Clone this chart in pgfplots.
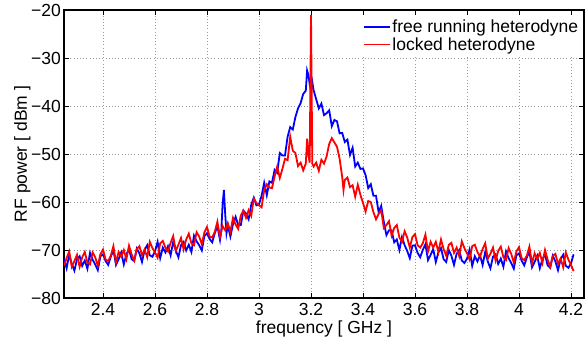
\documentclass[border=0pt]{standalone}
\usepackage{pgfplots}
\pgfplotsset{compat=1.18}
\usepackage{pgfplotstable}
\usepackage{fontspec}
\setmainfont{Liberation Sans}

\pgfplotstableread{
x y
2.25 -71.8
2.26 -73.8
2.27 -71.0
2.28 -72.9
2.29 -74.3
2.30 -71.9
2.31 -71.3
2.32 -73.3
2.33 -72.2
2.34 -73.9
2.35 -70.6
2.36 -72.0
2.37 -73.0
2.38 -74.2
2.39 -71.3
2.40 -70.9
2.41 -72.3
2.42 -73.1
2.43 -71.4
2.44 -70.0
2.45 -73.1
2.46 -71.9
2.47 -70.5
2.48 -73.0
2.49 -70.9
2.50 -69.8
2.51 -71.9
2.52 -72.3
2.53 -69.7
2.54 -70.7
2.55 -72.5
2.56 -70.0
2.57 -69.0
2.58 -71.1
2.59 -71.4
2.60 -70.3
2.61 -68.3
2.62 -71.7
2.63 -69.5
2.64 -70.5
2.65 -69.2
2.66 -71.1
2.67 -68.3
2.68 -70.1
2.69 -71.5
2.70 -69.0
2.71 -68.3
2.72 -70.1
2.73 -68.9
2.74 -70.4
2.75 -67.0
2.76 -68.2
2.77 -69.0
2.78 -70.1
2.79 -67.1
2.80 -66.5
2.81 -67.7
2.82 -68.4
2.83 -66.5
2.84 -65.0
2.85 -67.9
2.855 -66.0
2.86 -60.5
2.865 -57.5
2.87 -62.5
2.875 -66.5
2.88 -64.9
2.89 -67.2
2.90 -64.6
2.91 -63.1
2.92 -64.8
2.93 -64.8
2.94 -61.8
2.95 -62.4
2.96 -63.6
2.97 -60.6
2.98 -59.1
2.99 -60.7
3.00 -60.5
3.01 -58.7
3.02 -56.0
3.03 -58.6
3.04 -55.7
3.05 -56.0
3.06 -53.3
3.07 -53.9
3.08 -49.8
3.09 -50.3
3.10 -50.3
3.11 -46.4
3.12 -44.4
3.13 -44.9
3.14 -42.3
3.15 -40.5
3.16 -39.4
3.17 -37.5
3.18 -36.8
3.185 -32.6
3.19 -33.5
3.195 -35.5
3.20 -36.8
3.205 -35.0
3.21 -36.7
3.22 -38.6
3.23 -40.5
3.24 -39.5
3.25 -41.9
3.26 -41.5
3.27 -40.9
3.28 -44.2
3.29 -42.9
3.30 -43.2
3.31 -45.7
3.32 -45.6
3.33 -47.5
3.34 -47.0
3.35 -50.2
3.36 -48.7
3.37 -52.6
3.38 -51.8
3.39 -53.1
3.40 -53.0
3.41 -54.4
3.42 -57.1
3.43 -56.3
3.44 -58.7
3.45 -58.7
3.46 -62.1
3.47 -60.8
3.48 -64.1
3.49 -66.9
3.50 -65.9
3.51 -65.9
3.52 -68.4
3.53 -67.8
3.54 -70.0
3.55 -67.3
3.56 -69.0
3.57 -70.2
3.58 -71.7
3.59 -69.1
3.60 -69.0
3.61 -70.6
3.62 -71.5
3.63 -70.0
3.64 -68.8
3.65 -72.1
3.66 -71.0
3.67 -69.8
3.68 -72.5
3.69 -70.5
3.70 -69.6
3.71 -71.9
3.72 -72.5
3.73 -70.0
3.74 -71.2
3.75 -73.1
3.76 -70.8
3.77 -70.0
3.78 -72.2
3.79 -72.7
3.80 -71.8
3.81 -69.9
3.82 -73.3
3.83 -71.3
3.84 -72.4
3.85 -71.1
3.86 -73.1
3.87 -70.4
3.88 -72.4
3.89 -73.8
3.90 -71.4
3.91 -70.9
3.92 -72.9
3.93 -71.8
3.94 -73.5
3.95 -70.3
3.96 -71.7
3.97 -72.7
3.98 -73.9
3.99 -71.1
4.00 -70.7
4.01 -72.2
4.02 -73.2
4.03 -71.6
4.04 -70.3
4.05 -73.6
4.06 -72.5
4.07 -71.2
4.08 -73.8
4.09 -71.9
4.10 -70.9
4.11 -73.2
4.12 -73.7
4.13 -71.2
4.14 -72.4
4.15 -74.2
4.16 -71.9
4.17 -71.0
4.18 -73.3
4.19 -73.7
4.20 -72.8
4.21 -70.9
}\freedata

\pgfplotstableread{
x y
2.25 -73.3
2.26 -71.7
2.27 -70.3
2.28 -73.5
2.29 -72.3
2.30 -71.0
2.31 -73.5
2.32 -71.5
2.33 -70.4
2.34 -72.6
2.35 -73.0
2.36 -70.5
2.37 -71.5
2.38 -73.3
2.39 -70.9
2.40 -69.9
2.41 -72.0
2.42 -72.3
2.43 -71.2
2.44 -69.2
2.45 -72.6
2.46 -70.4
2.47 -71.4
2.48 -70.0
2.49 -71.9
2.50 -69.1
2.51 -70.9
2.52 -72.2
2.53 -69.8
2.54 -69.2
2.55 -71.1
2.56 -69.9
2.57 -71.5
2.58 -68.3
2.59 -69.6
2.60 -70.5
2.61 -71.6
2.62 -68.6
2.63 -68.1
2.64 -69.5
2.65 -70.3
2.66 -68.5
2.67 -67.1
2.68 -70.2
2.69 -68.9
2.70 -67.5
2.71 -69.9
2.72 -67.8
2.73 -66.6
2.74 -68.6
2.75 -69.0
2.76 -66.3
2.77 -67.2
2.78 -68.8
2.79 -66.3
2.80 -65.2
2.81 -67.2
2.82 -67.4
2.83 -66.2
2.84 -64.1
2.85 -67.3
2.86 -65.0
2.87 -65.9
2.88 -64.4
2.89 -66.2
2.90 -63.3
2.91 -64.7
2.92 -65.6
2.93 -62.8
2.94 -61.8
2.95 -63.3
2.96 -61.7
2.97 -62.9
2.98 -59.3
2.99 -60.2
3.00 -60.7
3.01 -61.1
3.02 -57.5
3.03 -56.3
3.04 -57.0
3.05 -57.1
3.06 -54.7
3.07 -52.6
3.08 -55.0
3.09 -53.1
3.10 -51.0
3.11 -51.3
3.12 -46.4
3.13 -49.3
3.14 -49.8
3.15 -52.5
3.16 -51.8
3.17 -53.4
3.18 -52.0
3.185 -46.8
3.19 -50.3
3.195 -51.8
3.20 -21.0
3.205 -52.0
3.21 -52.6
3.22 -51.8
3.23 -53.5
3.24 -51.2
3.25 -52.0
3.26 -50.5
3.27 -47.9
3.28 -46.7
3.29 -47.6
3.30 -48.5
3.31 -51.0
3.32 -54.8
3.325 -57.5
3.33 -55.4
3.34 -54.9
3.35 -56.9
3.36 -56.5
3.37 -58.9
3.38 -56.4
3.39 -58.5
3.40 -60.2
3.41 -62.0
3.42 -59.8
3.43 -60.0
3.44 -62.1
3.45 -63.6
3.46 -62.5
3.47 -61.7
3.48 -65.4
3.49 -64.8
3.50 -64.0
3.51 -67.0
3.52 -65.4
3.53 -64.8
3.54 -67.4
3.55 -68.3
3.56 -66.1
3.57 -67.4
3.58 -69.5
3.59 -67.3
3.60 -66.7
3.61 -69.0
3.62 -69.5
3.63 -68.6
3.64 -66.8
3.65 -70.3
3.66 -68.3
3.67 -69.5
3.68 -68.3
3.69 -70.4
3.70 -67.8
3.71 -69.8
3.72 -71.2
3.73 -68.9
3.74 -68.5
3.75 -70.6
3.76 -69.5
3.77 -71.3
3.78 -68.2
3.79 -69.6
3.80 -70.7
3.81 -72.0
3.82 -69.2
3.83 -68.9
3.84 -70.4
3.85 -71.4
3.86 -69.8
3.87 -68.6
3.88 -71.8
3.89 -70.8
3.90 -69.5
3.91 -72.2
3.92 -70.2
3.93 -69.3
3.94 -71.5
3.95 -72.1
3.96 -69.6
3.97 -70.8
3.98 -72.6
3.99 -70.3
4.00 -69.4
4.01 -71.7
4.02 -72.1
4.03 -71.2
4.04 -69.3
4.05 -72.8
4.06 -70.7
4.07 -71.9
4.08 -70.6
4.09 -72.7
4.10 -70.0
4.11 -72.0
4.12 -73.5
4.13 -71.2
4.14 -70.8
4.15 -72.9
4.16 -71.8
4.17 -73.6
4.18 -70.5
4.19 -72.0
4.20 -73.1
4.21 -74.4
}\lockeddata

\begin{document}
\begin{tikzpicture}[font=\fontsize{17.5}{20}\selectfont]
\path[use as bounding box] (-64pt,-43pt) rectangle (521pt,298pt);
\begin{axis}[
  at={(0,0)}, anchor=south west,
  scale only axis, width=520pt, height=288pt,
  xmin=2.25, xmax=4.25, ymin=-80, ymax=-20,
  xtick={2.4,2.6,2.8,3.0,3.2,3.4,3.6,3.8,4.0,4.2},
  xticklabels={2.4,2.6,2.8,3,3.2,3.4,3.6,3.8,4,4.2},
  ytick={-80,-70,-60,-50,-40,-30,-20},
  yticklabels={−80,−70,−60,−50,−40,−30,−20},
  tick align=inside, tick pos=both, major tick length=5pt,
  every tick/.style={black, line width=0.8pt},
  axis line style={line width=1.1pt},
  grid=major,
  grid style={gray!80, line width=0.7pt, dash pattern=on 0.8pt off 2.4pt},
  xticklabel style={anchor=base, yshift=-17pt},
  yticklabel style={anchor=east, inner xsep=0pt, xshift=-3pt},
  xlabel={frequency [ GHz ]},
  ylabel={RF power [ dBm ]},
  every axis x label/.style={at={(axis description cs:0.5,0)}, anchor=base, yshift=-35pt},
  every axis y label/.style={at={(axis description cs:-0.0712,0.5)}, anchor=base, rotate=90},
  legend style={at={(0.996,0.985)}, anchor=north east, draw=none, fill=white,
    inner xsep=2pt, inner ysep=4pt, row sep=0pt,
    nodes={inner xsep=1.5pt, inner ysep=1.6pt}},
  legend cell align=left,
  legend image code/.code={\draw[mark repeat=2,mark phase=2,#1] plot coordinates {(0pt,0pt) (13pt,0pt) (26pt,0pt)};},
]
\addplot[blue, line width=1.8pt] table[x=x, y=y] {\freedata};
\addlegendentry{free running heterodyne}
\addplot[red, line width=1.8pt] table[x=x, y=y] {\lockeddata};
\addlegendentry{locked heterodyne}
\end{axis}
\end{tikzpicture}
\end{document}
